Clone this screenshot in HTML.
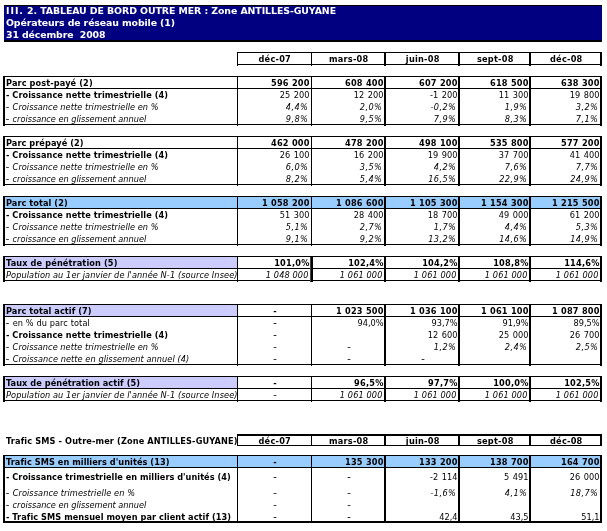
<!DOCTYPE html>
<html lang="fr"><head><meta charset="utf-8"><title>Tableau de bord Outre Mer</title><style>
html,body{margin:0;padding:0;background:#fff}
#p{position:relative;width:607px;height:531px;overflow:hidden;background:#fff;font-family:"DejaVu Sans","Liberation Sans",sans-serif;font-size:8.2px;color:#000}
.l{position:absolute}
.t{position:absolute;white-space:nowrap}
.b{font-weight:bold}
.i{font-style:italic;letter-spacing:0.075px}
.in{letter-spacing:0.4px}
.in2{letter-spacing:0.12px}
.bn{letter-spacing:0.25px}
.rn{word-spacing:1px}
.bl{letter-spacing:0.06px}
.rl{letter-spacing:0.1px}
.hl{letter-spacing:0.13px}
.ih{letter-spacing:0.045px}
.hy{letter-spacing:1px;-webkit-text-stroke:0.3px #000}
.t2{letter-spacing:-0.12px}
.t1{letter-spacing:-0.075px}
.iii{letter-spacing:0.95px}
.d{-webkit-text-stroke:0.35px #000}
.title{font-weight:bold;color:#fff;font-size:9.4px}
</style></head><body><div id="p">
<div class="l" style="left:4px;top:5px;width:598px;height:37px;background:#000"></div>
<div class="l" style="left:4px;top:6px;width:598px;height:34px;background:#000080"></div>
<div class="t title t1" style="left:6px;top:5px;height:12px;line-height:12px;"><span class="iii">III.</span> 2. TABLEAU DE BORD OUTRE MER : Zone ANTILLES-GUYANE</div>
<div class="t title t2" style="left:6px;top:17px;height:12px;line-height:12px;">Opérateurs de réseau mobile (1)</div>
<div class="t title t2" style="left:6px;top:29px;height:12px;line-height:12px;">31 décembre&nbsp; 2008</div>
<div class="l" style="left:237px;top:52px;width:365px;height:1px;background:#000"></div>
<div class="l" style="left:237px;top:64px;width:365px;height:1px;background:#000"></div>
<div class="l" style="left:237px;top:52px;width:1px;height:14px;background:#000"></div>
<div class="l" style="left:311px;top:52px;width:1px;height:14px;background:#000"></div>
<div class="l" style="left:384px;top:52px;width:2px;height:14px;background:#000"></div>
<div class="l" style="left:458px;top:52px;width:2px;height:14px;background:#000"></div>
<div class="l" style="left:529px;top:52px;width:2px;height:14px;background:#000"></div>
<div class="l" style="left:600px;top:52px;width:2px;height:14px;background:#000"></div>
<div class="t b bn" style="left:237.75px;top:54px;height:11px;line-height:11px;width:74px;text-align:center;">déc-07</div>
<div class="t b bn" style="left:311.75px;top:54px;height:11px;line-height:11px;width:74px;text-align:center;">mars-08</div>
<div class="t b bn" style="left:385.75px;top:54px;height:11px;line-height:11px;width:74px;text-align:center;">juin-08</div>
<div class="t b bn" style="left:459.75px;top:54px;height:11px;line-height:11px;width:71px;text-align:center;">sept-08</div>
<div class="t b bn" style="left:530.75px;top:54px;height:11px;line-height:11px;width:71px;text-align:center;">déc-08</div>
<div class="l" style="left:3px;top:76px;width:599px;height:1px;background:#000"></div>
<div class="l" style="left:3px;top:124px;width:599px;height:1px;background:#000"></div>
<div class="l" style="left:4px;top:88px;width:598px;height:1px;background:#000"></div>
<div class="l" style="left:3px;top:76px;width:2px;height:50px;background:#000"></div>
<div class="l" style="left:237px;top:76px;width:1px;height:50px;background:#000"></div>
<div class="l" style="left:311px;top:76px;width:1px;height:50px;background:#000"></div>
<div class="l" style="left:384px;top:76px;width:2px;height:50px;background:#000"></div>
<div class="l" style="left:458px;top:76px;width:2px;height:50px;background:#000"></div>
<div class="l" style="left:529px;top:76px;width:2px;height:50px;background:#000"></div>
<div class="l" style="left:600px;top:76px;width:2px;height:50px;background:#000"></div>
<div class="t b bl" style="left:6px;top:78px;height:11px;line-height:11px;letter-spacing:0.11px;">Parc post-payé (2)</div>
<div class="t b bn" style="left:238px;top:78px;height:11px;line-height:11px;width:71.75px;text-align:right;">596 200</div>
<div class="t b bn" style="left:312px;top:78px;height:11px;line-height:11px;width:71.75px;text-align:right;">608 400</div>
<div class="t b bn" style="left:386px;top:78px;height:11px;line-height:11px;width:71.75px;text-align:right;">607 200</div>
<div class="t b bn" style="left:460px;top:78px;height:11px;line-height:11px;width:68.75px;text-align:right;">618 500</div>
<div class="t b bn" style="left:531px;top:78px;height:11px;line-height:11px;width:68.75px;text-align:right;">638 300</div>
<div class="t b bl" style="left:6px;top:90px;height:11px;line-height:11px;">- Croissance nette trimestrielle (4)</div>
<div class="t rn" style="left:238px;top:90px;height:11px;line-height:11px;width:71.5px;text-align:right;">25 200</div>
<div class="t rn" style="left:312px;top:90px;height:11px;line-height:11px;width:71.5px;text-align:right;">12 200</div>
<div class="t rn" style="left:386px;top:90px;height:11px;line-height:11px;width:71.5px;text-align:right;">-1 200</div>
<div class="t rn" style="left:460px;top:90px;height:11px;line-height:11px;width:68.5px;text-align:right;">11 300</div>
<div class="t rn" style="left:531px;top:90px;height:11px;line-height:11px;width:68.5px;text-align:right;">19 800</div>
<div class="t i ih" style="left:6px;top:102px;height:11px;line-height:11px;"><span class="hy">-</span> Croissance nette trimestrielle en %</div>
<div class="t i in" style="left:238px;top:102px;height:11px;line-height:11px;width:70.2px;text-align:right;">4,4%</div>
<div class="t i in" style="left:312px;top:102px;height:11px;line-height:11px;width:70.2px;text-align:right;">2,0%</div>
<div class="t i in" style="left:386px;top:102px;height:11px;line-height:11px;width:70.2px;text-align:right;">-0,2%</div>
<div class="t i in" style="left:460px;top:102px;height:11px;line-height:11px;width:67.2px;text-align:right;">1,9%</div>
<div class="t i in" style="left:531px;top:102px;height:11px;line-height:11px;width:67.2px;text-align:right;">3,2%</div>
<div class="t i ih" style="left:6px;top:114px;height:11px;line-height:11px;letter-spacing:-0.015px;"><span class="hy">-</span> croissance en glissement annuel</div>
<div class="t i in" style="left:238px;top:114px;height:11px;line-height:11px;width:70.2px;text-align:right;">9,8%</div>
<div class="t i in" style="left:312px;top:114px;height:11px;line-height:11px;width:70.2px;text-align:right;">9,5%</div>
<div class="t i in" style="left:386px;top:114px;height:11px;line-height:11px;width:70.2px;text-align:right;">7,9%</div>
<div class="t i in" style="left:460px;top:114px;height:11px;line-height:11px;width:67.2px;text-align:right;">8,3%</div>
<div class="t i in" style="left:531px;top:114px;height:11px;line-height:11px;width:67.2px;text-align:right;">7,1%</div>
<div class="l" style="left:3px;top:136px;width:599px;height:1px;background:#000"></div>
<div class="l" style="left:3px;top:184px;width:599px;height:1px;background:#000"></div>
<div class="l" style="left:4px;top:148px;width:598px;height:1px;background:#000"></div>
<div class="l" style="left:3px;top:136px;width:2px;height:50px;background:#000"></div>
<div class="l" style="left:237px;top:136px;width:1px;height:50px;background:#000"></div>
<div class="l" style="left:311px;top:136px;width:1px;height:50px;background:#000"></div>
<div class="l" style="left:384px;top:136px;width:2px;height:50px;background:#000"></div>
<div class="l" style="left:458px;top:136px;width:2px;height:50px;background:#000"></div>
<div class="l" style="left:529px;top:136px;width:2px;height:50px;background:#000"></div>
<div class="l" style="left:600px;top:136px;width:2px;height:50px;background:#000"></div>
<div class="t b bl" style="left:6px;top:138px;height:11px;line-height:11px;">Parc prépayé (2)</div>
<div class="t b bn" style="left:238px;top:138px;height:11px;line-height:11px;width:71.75px;text-align:right;">462 000</div>
<div class="t b bn" style="left:312px;top:138px;height:11px;line-height:11px;width:71.75px;text-align:right;">478 200</div>
<div class="t b bn" style="left:386px;top:138px;height:11px;line-height:11px;width:71.75px;text-align:right;">498 100</div>
<div class="t b bn" style="left:460px;top:138px;height:11px;line-height:11px;width:68.75px;text-align:right;">535 800</div>
<div class="t b bn" style="left:531px;top:138px;height:11px;line-height:11px;width:68.75px;text-align:right;">577 200</div>
<div class="t b bl" style="left:6px;top:150px;height:11px;line-height:11px;">- Croissance nette trimestrielle (4)</div>
<div class="t rn" style="left:238px;top:150px;height:11px;line-height:11px;width:71.5px;text-align:right;">26 100</div>
<div class="t rn" style="left:312px;top:150px;height:11px;line-height:11px;width:71.5px;text-align:right;">16 200</div>
<div class="t rn" style="left:386px;top:150px;height:11px;line-height:11px;width:71.5px;text-align:right;">19 900</div>
<div class="t rn" style="left:460px;top:150px;height:11px;line-height:11px;width:68.5px;text-align:right;">37 700</div>
<div class="t rn" style="left:531px;top:150px;height:11px;line-height:11px;width:68.5px;text-align:right;">41 400</div>
<div class="t i ih" style="left:6px;top:162px;height:11px;line-height:11px;"><span class="hy">-</span> Croissance nette trimestrielle en %</div>
<div class="t i in" style="left:238px;top:162px;height:11px;line-height:11px;width:70.2px;text-align:right;">6,0%</div>
<div class="t i in" style="left:312px;top:162px;height:11px;line-height:11px;width:70.2px;text-align:right;">3,5%</div>
<div class="t i in" style="left:386px;top:162px;height:11px;line-height:11px;width:70.2px;text-align:right;">4,2%</div>
<div class="t i in" style="left:460px;top:162px;height:11px;line-height:11px;width:67.2px;text-align:right;">7,6%</div>
<div class="t i in" style="left:531px;top:162px;height:11px;line-height:11px;width:67.2px;text-align:right;">7,7%</div>
<div class="t i ih" style="left:6px;top:174px;height:11px;line-height:11px;letter-spacing:-0.015px;"><span class="hy">-</span> croissance en glissement annuel</div>
<div class="t i in" style="left:238px;top:174px;height:11px;line-height:11px;width:70.2px;text-align:right;">8,2%</div>
<div class="t i in" style="left:312px;top:174px;height:11px;line-height:11px;width:70.2px;text-align:right;">5,4%</div>
<div class="t i in" style="left:386px;top:174px;height:11px;line-height:11px;width:70.2px;text-align:right;">16,5%</div>
<div class="t i in" style="left:460px;top:174px;height:11px;line-height:11px;width:67.2px;text-align:right;">22,9%</div>
<div class="t i in" style="left:531px;top:174px;height:11px;line-height:11px;width:67.2px;text-align:right;">24,9%</div>
<div class="l" style="left:5px;top:197px;width:595px;height:11px;background:#99ccff"></div>
<div class="l" style="left:3px;top:196px;width:599px;height:1px;background:#000"></div>
<div class="l" style="left:3px;top:244px;width:599px;height:1px;background:#000"></div>
<div class="l" style="left:4px;top:208px;width:598px;height:1px;background:#000"></div>
<div class="l" style="left:3px;top:196px;width:2px;height:50px;background:#000"></div>
<div class="l" style="left:237px;top:196px;width:1px;height:50px;background:#000"></div>
<div class="l" style="left:311px;top:196px;width:1px;height:50px;background:#000"></div>
<div class="l" style="left:384px;top:196px;width:2px;height:50px;background:#000"></div>
<div class="l" style="left:458px;top:196px;width:2px;height:50px;background:#000"></div>
<div class="l" style="left:529px;top:196px;width:2px;height:50px;background:#000"></div>
<div class="l" style="left:600px;top:196px;width:2px;height:50px;background:#000"></div>
<div class="t b bl" style="left:6px;top:198px;height:11px;line-height:11px;">Parc total (2)</div>
<div class="t b bn" style="left:238px;top:198px;height:11px;line-height:11px;width:71.75px;text-align:right;">1 058 200</div>
<div class="t b bn" style="left:312px;top:198px;height:11px;line-height:11px;width:71.75px;text-align:right;">1 086 600</div>
<div class="t b bn" style="left:386px;top:198px;height:11px;line-height:11px;width:71.75px;text-align:right;">1 105 300</div>
<div class="t b bn" style="left:460px;top:198px;height:11px;line-height:11px;width:68.75px;text-align:right;">1 154 300</div>
<div class="t b bn" style="left:531px;top:198px;height:11px;line-height:11px;width:68.75px;text-align:right;">1 215 500</div>
<div class="t b bl" style="left:6px;top:210px;height:11px;line-height:11px;">- Croissance nette trimestrielle (4)</div>
<div class="t rn" style="left:238px;top:210px;height:11px;line-height:11px;width:71.5px;text-align:right;">51 300</div>
<div class="t rn" style="left:312px;top:210px;height:11px;line-height:11px;width:71.5px;text-align:right;">28 400</div>
<div class="t rn" style="left:386px;top:210px;height:11px;line-height:11px;width:71.5px;text-align:right;">18 700</div>
<div class="t rn" style="left:460px;top:210px;height:11px;line-height:11px;width:68.5px;text-align:right;">49 000</div>
<div class="t rn" style="left:531px;top:210px;height:11px;line-height:11px;width:68.5px;text-align:right;">61 200</div>
<div class="t i ih" style="left:6px;top:222px;height:11px;line-height:11px;"><span class="hy">-</span> Croissance nette trimestrielle en %</div>
<div class="t i in" style="left:238px;top:222px;height:11px;line-height:11px;width:70.2px;text-align:right;">5,1%</div>
<div class="t i in" style="left:312px;top:222px;height:11px;line-height:11px;width:70.2px;text-align:right;">2,7%</div>
<div class="t i in" style="left:386px;top:222px;height:11px;line-height:11px;width:70.2px;text-align:right;">1,7%</div>
<div class="t i in" style="left:460px;top:222px;height:11px;line-height:11px;width:67.2px;text-align:right;">4,4%</div>
<div class="t i in" style="left:531px;top:222px;height:11px;line-height:11px;width:67.2px;text-align:right;">5,3%</div>
<div class="t i ih" style="left:6px;top:234px;height:11px;line-height:11px;letter-spacing:-0.015px;"><span class="hy">-</span> croissance en glissement annuel</div>
<div class="t i in" style="left:238px;top:234px;height:11px;line-height:11px;width:70.2px;text-align:right;">9,1%</div>
<div class="t i in" style="left:312px;top:234px;height:11px;line-height:11px;width:70.2px;text-align:right;">9,2%</div>
<div class="t i in" style="left:386px;top:234px;height:11px;line-height:11px;width:70.2px;text-align:right;">13,2%</div>
<div class="t i in" style="left:460px;top:234px;height:11px;line-height:11px;width:67.2px;text-align:right;">14,6%</div>
<div class="t i in" style="left:531px;top:234px;height:11px;line-height:11px;width:67.2px;text-align:right;">14,9%</div>
<div class="l" style="left:5px;top:257px;width:232px;height:11px;background:#ccccff"></div>
<div class="l" style="left:3px;top:256px;width:599px;height:1px;background:#000"></div>
<div class="l" style="left:3px;top:280px;width:599px;height:1px;background:#000"></div>
<div class="l" style="left:4px;top:268px;width:598px;height:1px;background:#000"></div>
<div class="l" style="left:3px;top:256px;width:2px;height:26px;background:#000"></div>
<div class="l" style="left:237px;top:256px;width:1px;height:26px;background:#000"></div>
<div class="l" style="left:311px;top:256px;width:1px;height:26px;background:#000"></div>
<div class="l" style="left:384px;top:256px;width:2px;height:26px;background:#000"></div>
<div class="l" style="left:458px;top:256px;width:2px;height:26px;background:#000"></div>
<div class="l" style="left:529px;top:256px;width:2px;height:26px;background:#000"></div>
<div class="l" style="left:600px;top:256px;width:2px;height:26px;background:#000"></div>
<div class="t b bl" style="left:6px;top:258px;height:11px;line-height:11px;letter-spacing:0.12px;">Taux de pénétration (5)</div>
<div class="t b bn" style="left:238px;top:258px;height:11px;line-height:11px;width:71.75px;text-align:right;">101,0%</div>
<div class="t b bn" style="left:312px;top:258px;height:11px;line-height:11px;width:71.75px;text-align:right;">102,4%</div>
<div class="t b bn" style="left:386px;top:258px;height:11px;line-height:11px;width:71.75px;text-align:right;">104,2%</div>
<div class="t b bn" style="left:460px;top:258px;height:11px;line-height:11px;width:68.75px;text-align:right;">108,8%</div>
<div class="t b bn" style="left:531px;top:258px;height:11px;line-height:11px;width:68.75px;text-align:right;">114,6%</div>
<div class="t i" style="left:6px;top:270px;height:11px;line-height:11px;letter-spacing:0.098px;">Population au 1er janvier de l'année N-1 (source Insee)</div>
<div class="t i in2" style="left:238px;top:270px;height:11px;line-height:11px;width:70.5px;text-align:right;">1 048 000</div>
<div class="t i in2" style="left:312px;top:270px;height:11px;line-height:11px;width:70.5px;text-align:right;">1 061 000</div>
<div class="t i in2" style="left:386px;top:270px;height:11px;line-height:11px;width:70.5px;text-align:right;">1 061 000</div>
<div class="t i in2" style="left:460px;top:270px;height:11px;line-height:11px;width:67.5px;text-align:right;">1 061 000</div>
<div class="t i in2" style="left:531px;top:270px;height:11px;line-height:11px;width:67.5px;text-align:right;">1 061 000</div>
<div class="l" style="left:5px;top:305px;width:232px;height:11px;background:#ccccff"></div>
<div class="l" style="left:3px;top:304px;width:599px;height:1px;background:#000"></div>
<div class="l" style="left:3px;top:364px;width:599px;height:1px;background:#000"></div>
<div class="l" style="left:4px;top:316px;width:598px;height:1px;background:#000"></div>
<div class="l" style="left:3px;top:304px;width:2px;height:62px;background:#000"></div>
<div class="l" style="left:237px;top:304px;width:1px;height:62px;background:#000"></div>
<div class="l" style="left:311px;top:304px;width:1px;height:62px;background:#000"></div>
<div class="l" style="left:384px;top:304px;width:2px;height:62px;background:#000"></div>
<div class="l" style="left:458px;top:304px;width:2px;height:62px;background:#000"></div>
<div class="l" style="left:529px;top:304px;width:2px;height:62px;background:#000"></div>
<div class="l" style="left:600px;top:304px;width:2px;height:62px;background:#000"></div>
<div class="t b bl" style="left:6px;top:306px;height:11px;line-height:11px;">Parc total actif (7)</div>
<div class="t b" style="left:238px;top:306px;height:11px;line-height:11px;width:74px;text-align:center;">-</div>
<div class="t b bn" style="left:312px;top:306px;height:11px;line-height:11px;width:71.75px;text-align:right;">1 023 500</div>
<div class="t b bn" style="left:386px;top:306px;height:11px;line-height:11px;width:71.75px;text-align:right;">1 036 100</div>
<div class="t b bn" style="left:460px;top:306px;height:11px;line-height:11px;width:68.75px;text-align:right;">1 061 100</div>
<div class="t b bn" style="left:531px;top:306px;height:11px;line-height:11px;width:68.75px;text-align:right;">1 087 800</div>
<div class="t rl" style="left:6px;top:318px;height:11px;line-height:11px;"><span class="hy">-</span> en % du parc total</div>
<div class="t d" style="left:238px;top:318px;height:11px;line-height:11px;width:74px;text-align:center;">-</div>
<div class="t rn" style="left:312px;top:318px;height:11px;line-height:11px;width:71.5px;text-align:right;">94,0%</div>
<div class="t rn" style="left:386px;top:318px;height:11px;line-height:11px;width:71.5px;text-align:right;">93,7%</div>
<div class="t rn" style="left:460px;top:318px;height:11px;line-height:11px;width:68.5px;text-align:right;">91,9%</div>
<div class="t rn" style="left:531px;top:318px;height:11px;line-height:11px;width:68.5px;text-align:right;">89,5%</div>
<div class="t b bl" style="left:6px;top:330px;height:11px;line-height:11px;">- Croissance nette trimestrielle (4)</div>
<div class="t d" style="left:238px;top:330px;height:11px;line-height:11px;width:74px;text-align:center;">-</div>
<div class="t rn" style="left:386px;top:330px;height:11px;line-height:11px;width:71.5px;text-align:right;">12 600</div>
<div class="t rn" style="left:460px;top:330px;height:11px;line-height:11px;width:68.5px;text-align:right;">25 000</div>
<div class="t rn" style="left:531px;top:330px;height:11px;line-height:11px;width:68.5px;text-align:right;">26 700</div>
<div class="t i ih" style="left:6px;top:342px;height:11px;line-height:11px;"><span class="hy">-</span> Croissance nette trimestrielle en %</div>
<div class="t i d" style="left:238px;top:342px;height:11px;line-height:11px;width:74px;text-align:center;">-</div>
<div class="t i d" style="left:312px;top:342px;height:11px;line-height:11px;width:74px;text-align:center;">-</div>
<div class="t i in" style="left:386px;top:342px;height:11px;line-height:11px;width:70.2px;text-align:right;">1,2%</div>
<div class="t i in" style="left:460px;top:342px;height:11px;line-height:11px;width:67.2px;text-align:right;">2,4%</div>
<div class="t i in" style="left:531px;top:342px;height:11px;line-height:11px;width:67.2px;text-align:right;">2,5%</div>
<div class="t i ih" style="left:6px;top:354px;height:11px;line-height:11px;letter-spacing:0.07px;"><span class="hy">-</span> Croissance nette en glissement annuel (4)</div>
<div class="t i d" style="left:238px;top:354px;height:11px;line-height:11px;width:74px;text-align:center;">-</div>
<div class="t i d" style="left:312px;top:354px;height:11px;line-height:11px;width:74px;text-align:center;">-</div>
<div class="t i d" style="left:386px;top:354px;height:11px;line-height:11px;width:74px;text-align:center;">-</div>
<div class="l" style="left:5px;top:377px;width:232px;height:11px;background:#ccccff"></div>
<div class="l" style="left:3px;top:376px;width:599px;height:1px;background:#000"></div>
<div class="l" style="left:3px;top:400px;width:599px;height:1px;background:#000"></div>
<div class="l" style="left:4px;top:388px;width:598px;height:1px;background:#000"></div>
<div class="l" style="left:3px;top:376px;width:2px;height:26px;background:#000"></div>
<div class="l" style="left:237px;top:376px;width:1px;height:26px;background:#000"></div>
<div class="l" style="left:311px;top:376px;width:1px;height:26px;background:#000"></div>
<div class="l" style="left:384px;top:376px;width:2px;height:26px;background:#000"></div>
<div class="l" style="left:458px;top:376px;width:2px;height:26px;background:#000"></div>
<div class="l" style="left:529px;top:376px;width:2px;height:26px;background:#000"></div>
<div class="l" style="left:600px;top:376px;width:2px;height:26px;background:#000"></div>
<div class="t b bl" style="left:6px;top:378px;height:11px;line-height:11px;">Taux de pénétration actif (5)</div>
<div class="t b" style="left:238px;top:378px;height:11px;line-height:11px;width:74px;text-align:center;">-</div>
<div class="t b bn" style="left:312px;top:378px;height:11px;line-height:11px;width:71.75px;text-align:right;">96,5%</div>
<div class="t b bn" style="left:386px;top:378px;height:11px;line-height:11px;width:71.75px;text-align:right;">97,7%</div>
<div class="t b bn" style="left:460px;top:378px;height:11px;line-height:11px;width:68.75px;text-align:right;">100,0%</div>
<div class="t b bn" style="left:531px;top:378px;height:11px;line-height:11px;width:68.75px;text-align:right;">102,5%</div>
<div class="t i" style="left:6px;top:390px;height:11px;line-height:11px;letter-spacing:0.098px;">Population au 1er janvier de l'année N-1 (source Insee)</div>
<div class="t i d" style="left:238px;top:390px;height:11px;line-height:11px;width:74px;text-align:center;">-</div>
<div class="t i in2" style="left:312px;top:390px;height:11px;line-height:11px;width:70.5px;text-align:right;">1 061 000</div>
<div class="t i in2" style="left:386px;top:390px;height:11px;line-height:11px;width:70.5px;text-align:right;">1 061 000</div>
<div class="t i in2" style="left:460px;top:390px;height:11px;line-height:11px;width:67.5px;text-align:right;">1 061 000</div>
<div class="t i in2" style="left:531px;top:390px;height:11px;line-height:11px;width:67.5px;text-align:right;">1 061 000</div>
<div class="l" style="left:237px;top:434px;width:365px;height:2px;background:#000"></div>
<div class="l" style="left:237px;top:445px;width:365px;height:1px;background:#000"></div>
<div class="l" style="left:237px;top:434px;width:1px;height:12px;background:#000"></div>
<div class="l" style="left:311px;top:434px;width:1px;height:12px;background:#000"></div>
<div class="l" style="left:384px;top:434px;width:2px;height:12px;background:#000"></div>
<div class="l" style="left:458px;top:434px;width:2px;height:12px;background:#000"></div>
<div class="l" style="left:529px;top:434px;width:2px;height:12px;background:#000"></div>
<div class="l" style="left:600px;top:434px;width:2px;height:12px;background:#000"></div>
<div class="t b bn" style="left:237.75px;top:436px;height:10px;line-height:10px;width:74px;text-align:center;">déc-07</div>
<div class="t b bn" style="left:311.75px;top:436px;height:10px;line-height:10px;width:74px;text-align:center;">mars-08</div>
<div class="t b bn" style="left:385.75px;top:436px;height:10px;line-height:10px;width:74px;text-align:center;">juin-08</div>
<div class="t b bn" style="left:459.75px;top:436px;height:10px;line-height:10px;width:71px;text-align:center;">sept-08</div>
<div class="t b bn" style="left:530.75px;top:436px;height:10px;line-height:10px;width:71px;text-align:center;">déc-08</div>
<div class="t b hl" style="left:6px;top:436px;height:10px;line-height:10px;">Trafic SMS - Outre-mer (Zone ANTILLES-GUYANE)</div>
<div class="l" style="left:5px;top:456px;width:595px;height:11px;background:#99ccff"></div>
<div class="l" style="left:3px;top:455px;width:599px;height:1px;background:#000"></div>
<div class="l" style="left:3px;top:521px;width:599px;height:2px;background:#000"></div>
<div class="l" style="left:4px;top:467px;width:598px;height:1px;background:#000"></div>
<div class="l" style="left:3px;top:455px;width:2px;height:68px;background:#000"></div>
<div class="l" style="left:237px;top:455px;width:1px;height:68px;background:#000"></div>
<div class="l" style="left:311px;top:455px;width:1px;height:68px;background:#000"></div>
<div class="l" style="left:384px;top:455px;width:2px;height:68px;background:#000"></div>
<div class="l" style="left:458px;top:455px;width:2px;height:68px;background:#000"></div>
<div class="l" style="left:529px;top:455px;width:2px;height:68px;background:#000"></div>
<div class="l" style="left:600px;top:455px;width:2px;height:68px;background:#000"></div>
<div class="t b bl" style="left:6px;top:457px;height:11px;line-height:11px;">Trafic SMS en milliers d'unités (13)</div>
<div class="t b" style="left:238px;top:457px;height:11px;line-height:11px;width:74px;text-align:center;">-</div>
<div class="t b bn" style="left:312px;top:457px;height:11px;line-height:11px;width:71.75px;text-align:right;">135 300</div>
<div class="t b bn" style="left:386px;top:457px;height:11px;line-height:11px;width:71.75px;text-align:right;">133 200</div>
<div class="t b bn" style="left:460px;top:457px;height:11px;line-height:11px;width:68.75px;text-align:right;">138 700</div>
<div class="t b bn" style="left:531px;top:457px;height:11px;line-height:11px;width:68.75px;text-align:right;">164 700</div>
<div class="t b bl" style="left:6px;top:469px;height:17px;line-height:17px;letter-spacing:0.02px;">- Croissance trimestrielle en milliers d'unités (4)</div>
<div class="t d" style="left:238px;top:469px;height:17px;line-height:17px;width:74px;text-align:center;">-</div>
<div class="t d" style="left:312px;top:469px;height:17px;line-height:17px;width:74px;text-align:center;">-</div>
<div class="t rn" style="left:386px;top:469px;height:17px;line-height:17px;width:71.5px;text-align:right;">-2 114</div>
<div class="t rn" style="left:460px;top:469px;height:17px;line-height:17px;width:68.5px;text-align:right;">5 491</div>
<div class="t rn" style="left:531px;top:469px;height:17px;line-height:17px;width:68.5px;text-align:right;">26 000</div>
<div class="t i ih" style="left:6px;top:487px;height:12px;line-height:12px;letter-spacing:0.08px;"><span class="hy">-</span> Croissance trimestrielle en %</div>
<div class="t i d" style="left:238px;top:487px;height:12px;line-height:12px;width:74px;text-align:center;">-</div>
<div class="t i d" style="left:312px;top:487px;height:12px;line-height:12px;width:74px;text-align:center;">-</div>
<div class="t i in" style="left:386px;top:487px;height:12px;line-height:12px;width:70.2px;text-align:right;">-1,6%</div>
<div class="t i in" style="left:460px;top:487px;height:12px;line-height:12px;width:67.2px;text-align:right;">4,1%</div>
<div class="t i in" style="left:531px;top:487px;height:12px;line-height:12px;width:67.2px;text-align:right;">18,7%</div>
<div class="t i ih" style="left:6px;top:500px;height:11px;line-height:11px;letter-spacing:-0.015px;"><span class="hy">-</span> croissance en glissement annuel</div>
<div class="t i d" style="left:238px;top:500px;height:11px;line-height:11px;width:74px;text-align:center;">-</div>
<div class="t i d" style="left:312px;top:500px;height:11px;line-height:11px;width:74px;text-align:center;">-</div>
<div class="t b bl" style="left:6px;top:512px;height:10px;line-height:10px;">- Trafic SMS mensuel moyen par client actif (13)</div>
<div class="t d" style="left:238px;top:512px;height:10px;line-height:10px;width:74px;text-align:center;">-</div>
<div class="t d" style="left:312px;top:512px;height:10px;line-height:10px;width:74px;text-align:center;">-</div>
<div class="t rn" style="left:386px;top:512px;height:10px;line-height:10px;width:71.5px;text-align:right;">42,4</div>
<div class="t rn" style="left:460px;top:512px;height:10px;line-height:10px;width:68.5px;text-align:right;">43,5</div>
<div class="t rn" style="left:531px;top:512px;height:10px;line-height:10px;width:68.5px;text-align:right;">51,1</div>
<div class="l" style="left:311px;top:256px;width:2px;height:26px;background:#000"></div>
<div class="l" style="left:310px;top:257px;width:1px;height:25px;background:#444"></div>
</div></body></html>
